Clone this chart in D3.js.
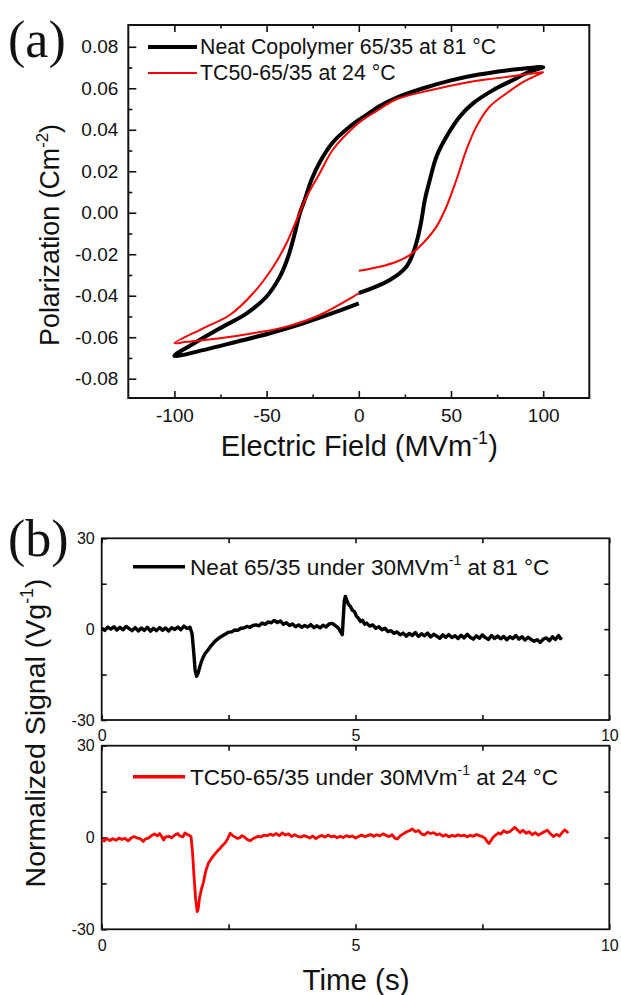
<!DOCTYPE html>
<html><head><meta charset="utf-8">
<script src="https://cdn.jsdelivr.net/npm/d3@7"></script>
<style>
body{margin:0;background:#fff}
text{fill:#111}
</style>
</head><body>
<svg id="c" width="621" height="995"></svg>
<script>
// ---------- Panel (a) data ----------
const fieldTicks = [-100, -50, 0, 50, 100];
const fieldMinor = [-75, -25, 25, 75];
const polTicks = [-0.08, -0.06, -0.04, -0.02, 0.00, 0.02, 0.04, 0.06, 0.08];
const polMinor = [-0.07, -0.05, -0.03, -0.01, 0.01, 0.03, 0.05, 0.07];
const legendA = ["Neat Copolymer 65/35 at 81 \u00B0C", "TC50-65/35 at 24 \u00B0C"];

const neatE = [0,16.8,25.8,29.4,32.1,34,35.8,38.5,42.1,47.5,54.7,61.9,72.8,83.6,92.6,100,
  92,80,65,50,35,20,11.4,4.2,-3.1,-14,-21.1,-25.6,-29.3,-32,-34.7,-38.3,-42.8,-50.1,-60.8,-75.3,-87.9,-100,
  -84.4,-66.3,-48.2,-30.2,-12.1,0];
const neatP = [-0.0388,-0.0324,-0.0260,-0.0196,-0.0116,-0.0035,0.0061,0.0158,0.0270,0.0366,0.0463,0.0527,0.0591,0.0640,0.0680,0.0702,
  0.0698,0.0686,0.0666,0.0638,0.0600,0.0553,0.0515,0.0472,0.0428,0.0340,0.0245,0.0160,0.0063,-0.0003,-0.0099,-0.0212,-0.0308,-0.0405,-0.0485,-0.0557,-0.0622,-0.0690,
  -0.0662,-0.0622,-0.0581,-0.0533,-0.0477,-0.0437];

const tcE = [0,11.4,20.4,27.6,34.8,42.1,47.5,52.9,58.3,63.7,70.9,80,88.1,94,100,
  95,85,70,56.5,40,20.4,11.4,2.4,-3.1,-14,-21.1,-28.3,-33.7,-39.2,-46.4,-57.3,-70,-84.4,-100,
  -93.3,-75.3,-57.3,-39.2,-21.1,-3.1,0];
const tcP = [-0.0280,-0.0260,-0.0236,-0.0204,-0.0147,-0.0067,0.0029,0.0158,0.0302,0.0414,0.0511,0.0575,0.0625,0.0652,0.0678,
  0.0672,0.0660,0.0643,0.0624,0.0593,0.0547,0.0500,0.0450,0.0410,0.0305,0.0192,0.0077,-0.0035,-0.0147,-0.0260,-0.0388,-0.0493,-0.0557,-0.0629,
  -0.0622,-0.0605,-0.0581,-0.0549,-0.0493,-0.0405,-0.0388];

// ---------- Panel (b) data ----------
const timeTicks = [0, 5, 10];
const timeMinor = [2.5, 7.5];
const signalTicks = [-30, 0, 30];
const signalMinor = [-15, 15];
const legendB1 = ["Neat 65/35 under 30MVm", "-1", " at 81 \u00B0C"];
const legendB2 = ["TC50-65/35 under 30MVm", "-1", " at 24 \u00B0C"];

const neatT = [0.00,0.06,0.12,0.18,0.24,0.30,0.36,0.42,0.48,0.54,0.60,0.66,0.72,0.78,0.84,0.90,0.96,1.02,1.08,1.14,1.20,1.26,1.32,1.38,1.44,1.50,1.56,1.62,1.68,1.74,
  1.78,1.81,1.84,1.87,1.90,1.94,1.98,2.03,2.08,2.14,2.20,2.26,2.32,2.38,2.44,2.50,2.56,2.62,2.68,2.74,2.80,2.86,2.92,2.98,3.04,3.10,3.16,3.22,3.28,3.34,3.40,3.46,3.52,3.58,3.64,3.70,3.76,3.82,3.88,3.94,
  4.00,4.06,4.12,4.18,4.24,4.30,4.36,4.42,4.48,4.54,4.60,4.66,4.71,4.74,4.76,4.78,4.80,4.83,4.86,4.90,4.94,4.98,5.02,5.06,5.10,5.14,5.18,5.22,5.28,5.34,5.40,5.46,5.52,5.58,5.64,5.70,5.76,5.82,5.88,5.94,
  6.00,6.06,6.12,6.18,6.24,6.30,6.36,6.42,6.48,6.54,6.60,6.66,6.72,6.78,6.84,6.90,6.96,7.02,7.08,7.14,7.20,7.26,7.32,7.38,7.44,7.50,7.56,7.62,7.68,7.74,7.80,7.86,7.92,7.98,
  8.04,8.10,8.16,8.22,8.28,8.34,8.40,8.46,8.52,8.58,8.64,8.70,8.76,8.82,8.88,8.94,9.00,9.04,9.06];
const neatV = [0.3,-0.4,0.7,0.0,0.8,-0.3,0.6,-0.2,0.9,0.2,-0.5,0.5,-0.6,0.4,-0.4,0.6,-0.7,0.3,-0.5,0.5,-0.4,0.4,-0.6,0.5,-0.1,0.7,-0.2,1.0,0.2,0.6,
  -1.5,-7,-13.5,-15.6,-14.5,-12,-10,-8.2,-7.2,-5.8,-4.6,-3.6,-2.8,-2.2,-1.6,-1.0,-0.9,-0.3,-0.4,0.3,0.4,0.9,0.6,1.2,1.4,1.1,2.0,1.6,2.4,2.1,2.9,2.2,2.7,1.6,2.1,1.2,1.7,0.8,1.4,0.6,
  1.2,0.7,1.5,0.5,1.1,0.4,1.3,0.7,1.7,1.9,1.2,0.4,-1.0,-1.8,4,9.5,10.8,9.5,8.2,7.5,6.2,5.8,4.2,3.6,2.5,2.9,1.6,2.0,1.0,1.4,0.3,0.8,-0.2,0.3,-0.8,-0.5,-1.4,-0.9,-1.9,-1.3,
  -2.3,-1.4,-2.1,-1.1,-2.4,-1.5,-2.2,-1.3,-2.6,-1.7,-2.3,-3.0,-1.9,-2.7,-1.8,-2.8,-2.2,-3.1,-2.0,-2.9,-1.7,-2.7,-3.3,-2.2,-3.0,-1.9,-2.8,-3.4,-2.1,-3.1,-2.3,-3.2,-2.4,-3.5,
  -2.5,-3.1,-2.1,-3.3,-2.5,-3.6,-2.7,-3.4,-4.0,-3.5,-4.4,-3.3,-2.9,-3.8,-2.5,-3.4,-2.1,-3.1,-2.6];

const tcT = [0.00,0.05,0.10,0.16,0.22,0.28,0.34,0.40,0.46,0.52,0.58,0.64,0.70,0.76,0.82,0.86,0.92,0.98,1.04,1.10,1.14,1.18,1.22,1.26,1.32,1.38,1.44,1.50,1.54,1.60,1.64,1.68,1.72,1.76,
  1.79,1.82,1.85,1.88,1.90,1.93,1.97,2.00,2.05,2.10,2.15,2.20,2.27,2.33,2.38,2.43,2.48,2.53,2.57,2.62,2.67,2.72,2.76,2.80,2.86,2.92,2.97,3.02,3.08,3.14,3.20,3.26,3.32,3.38,3.44,3.50,3.56,3.62,3.68,3.74,3.80,3.86,3.92,3.98,
  4.04,4.10,4.16,4.22,4.28,4.34,4.40,4.46,4.52,4.58,4.64,4.70,4.76,4.82,4.88,4.94,5.00,5.06,5.12,5.18,5.24,5.30,5.36,5.42,5.48,5.54,5.60,5.66,5.72,5.78,5.82,5.88,5.94,
  6.00,6.06,6.12,6.18,6.24,6.30,6.36,6.42,6.48,6.54,6.60,6.66,6.72,6.78,6.84,6.90,6.96,7.02,7.08,7.14,7.20,7.26,7.32,7.38,7.44,7.50,7.56,7.60,7.63,7.66,7.70,7.76,7.82,7.86,7.92,7.98,
  8.04,8.10,8.14,8.18,8.24,8.30,8.36,8.42,8.48,8.54,8.60,8.66,8.72,8.78,8.84,8.90,8.96,9.02,9.08,9.12,9.16,9.19];
const tcV = [-0.7,-1.2,-0.3,-1.0,-0.4,-0.9,-0.2,-0.6,-0.3,-1.1,-0.2,0.3,-0.2,-0.4,-1.3,-0.5,-0.2,0.6,1.2,0.5,1.3,0.4,-0.8,0.2,0.4,-0.1,0.8,1.3,0.5,0.2,1.5,1.0,0.8,0.3,
  -5,-13,-20,-24.2,-23.5,-19.5,-16.5,-14.9,-11,-8.4,-7.2,-6.0,-4.6,-3.6,-2.6,-1.8,-0.5,1.4,0.8,0.2,-0.3,-0.1,0.6,0.3,-0.6,-1.1,-0.5,-0.1,0.4,0.2,0.8,0.6,1.1,0.7,1.3,0.6,1.5,0.8,1.2,0.3,0.9,0.4,0.1,0.6,
  0.3,-0.2,0.5,-0.4,0.3,0.7,0.1,0.8,0.2,0.5,-0.1,0.4,0.0,0.6,0.2,0.5,-0.2,0.3,0.8,0.3,0.6,1.0,0.4,0.9,0.5,1.2,0.7,0.3,0.9,-0.3,-0.5,0.5,1.2,
  1.8,2.2,2.8,1.9,2.3,1.2,0.8,1.7,1.3,1.6,0.9,1.2,0.4,0.9,0.2,0.7,0.4,0.9,0.5,0.8,0.2,0.7,0.4,1.0,0.6,0.3,-0.4,-1.5,-2.0,-1.2,-0.2,0.8,1.5,1.1,2.2,1.6,
  1.9,2.8,3.3,2.6,1.6,2.4,1.4,1.9,0.9,1.6,0.8,1.3,1.9,2.4,1.2,0.3,1.0,0.5,1.8,2.5,2.0,1.4];

// ---------- Drawing ----------
const svg = d3.select("#c");
const FONT = '"Liberation Sans",Arial,sans-serif';
const SERIF = '"Liberation Serif","Times New Roman","DejaVu Serif",serif';

function richText(g, x, y, parts, size, opts = {}) {
  const t = g.append("text").attr("x", x).attr("y", y).attr("font-size", size).style("font-family", FONT);
  if (opts.anchor) t.attr("text-anchor", opts.anchor);
  if (opts.transform) t.attr("transform", opts.transform);
  parts.forEach(p => {
    const s = t.append("tspan").text(p.t);
    if (p.sup) s.attr("font-size", size * 0.62).attr("dy", -size * 0.42);
    else if (p.after) s.attr("dy", size * 0.42);
  });
  return t;
}
function plainText(g, x, y, str, size, family) {
  return g.append("text").attr("x", x).attr("y", y).attr("font-size", size).style("font-family", family || FONT).text(str);
}

// ===== Panel (a) =====
const A = {l: 128.3, r: 589.3, t: 25, b: 398};
const xA = d3.scaleLinear().domain([-125, 125]).range([A.l, A.r]);
const yA = d3.scaleLinear().domain([-0.0893, 0.0905]).range([A.b, A.t]);
const gA = svg.append("g");

function styleAxis(sel, fs) {
  sel.select(".domain").remove();
  sel.selectAll("line").attr("stroke", "#111").attr("stroke-width", 1.6);
  sel.selectAll("text").attr("font-size", fs).style("font-family", FONT).attr("fill", "#111")
    .text(function(){ return this.textContent.replace("\u2212", "-"); });
}

gA.append("g").attr("transform", `translate(0,${A.b})`)
  .call(d3.axisBottom(xA).tickValues(fieldTicks).tickSizeInner(-7).tickSizeOuter(0).tickPadding(11).tickFormat(d3.format("d")))
  .call(s => styleAxis(s, 19));
gA.append("g").attr("transform", `translate(0,${A.b})`)
  .call(d3.axisBottom(xA).tickValues(fieldMinor).tickSizeInner(-3.5).tickSizeOuter(0).tickFormat(""))
  .call(s => styleAxis(s, 19));
gA.append("g").attr("transform", `translate(0,${A.t})`)
  .call(d3.axisTop(xA).tickValues(fieldTicks).tickSizeInner(-7).tickSizeOuter(0).tickFormat(""))
  .call(s => styleAxis(s, 19));
gA.append("g").attr("transform", `translate(0,${A.t})`)
  .call(d3.axisTop(xA).tickValues(fieldMinor).tickSizeInner(-3.5).tickSizeOuter(0).tickFormat(""))
  .call(s => styleAxis(s, 19));
gA.append("g").attr("transform", `translate(${A.l},0)`)
  .call(d3.axisLeft(yA).tickValues(polTicks).tickSizeInner(-8).tickSizeOuter(0).tickPadding(10).tickFormat(d3.format(".2f")))
  .call(s => styleAxis(s, 19));
gA.append("g").attr("transform", `translate(${A.l},0)`)
  .call(d3.axisLeft(yA).tickValues(polMinor).tickSizeInner(-4).tickSizeOuter(0).tickFormat(""))
  .call(s => styleAxis(s, 19));

gA.append("rect").attr("x", A.l).attr("y", A.t).attr("width", A.r - A.l).attr("height", A.b - A.t)
  .attr("fill", "none").attr("stroke", "#111").attr("stroke-width", 2);

const lineA = d3.line().x(d => xA(d[0])).y(d => yA(d[1])).curve(d3.curveCatmullRom.alpha(0.5));
gA.append("path").datum(neatE.map((e, i) => [e, neatP[i]])).attr("d", lineA)
  .attr("fill", "none").attr("stroke", "#000").attr("stroke-width", 4).attr("stroke-linejoin", "round");
gA.append("path").datum(tcE.map((e, i) => [e, tcP[i]])).attr("d", lineA)
  .attr("fill", "none").attr("stroke", "#ff0000").attr("stroke-width", 2).attr("stroke-linejoin", "round");

// legend (a)
gA.append("line").attr("x1", 148).attr("x2", 197).attr("y1", 47).attr("y2", 47).attr("stroke", "#000").attr("stroke-width", 4);
gA.append("line").attr("x1", 148).attr("x2", 197).attr("y1", 73).attr("y2", 73).attr("stroke", "#ff0000").attr("stroke-width", 2);
plainText(gA, 200, 54, legendA[0], 21.3);
plainText(gA, 200, 80, legendA[1], 21.3);

// titles (a)
richText(gA, (A.l + A.r) / 2 + 0.5, 456, [{t: "Electric Field (MVm"}, {t: "-1", sup: true}, {t: ")", after: true}], 29, {anchor: "middle"});
richText(gA, 0, 0, [{t: "Polarization (Cm"}, {t: "-2", sup: true}, {t: ")", after: true}], 26.8,
  {anchor: "middle", transform: `translate(59,235) rotate(-90)`});
plainText(gA, 8, 57, "(a)", 52, SERIF);

// ===== Panel (b) =====
const B = {l: 101.7, r: 609.3};
const xB = d3.scaleLinear().domain([0, 10]).range([B.l, B.r]);
const panels = [
  {t: 538.3, b: 720, T: neatT, V: neatV, color: "#000", width: 3.4, legend: legendB1, ly: 566.7, lw: 3.5},
  {t: 745.7, b: 929.3, T: tcT, V: tcV, color: "#ff0000", width: 2.8, legend: legendB2, ly: 776.7, lw: 3.5}
];
panels.forEach(p => {
  const g = svg.append("g");
  const y = d3.scaleLinear().domain([-30, 30]).range([p.b, p.t]);
  g.append("g").attr("transform", `translate(0,${p.b})`)
    .call(d3.axisBottom(xB).tickValues(timeTicks).tickSizeInner(-5).tickSizeOuter(0).tickPadding(10).tickFormat(d3.format("d")))
    .call(s => styleAxis(s, 16));
  g.append("g").attr("transform", `translate(0,${p.b})`)
    .call(d3.axisBottom(xB).tickValues(timeMinor).tickSizeInner(-5).tickSizeOuter(0).tickFormat(""))
    .call(s => styleAxis(s, 16));
  g.append("g").attr("transform", `translate(0,${p.t})`)
    .call(d3.axisTop(xB).tickValues(timeTicks.concat(timeMinor)).tickSizeInner(-5).tickSizeOuter(0).tickFormat(""))
    .call(s => styleAxis(s, 16));
  g.append("g").attr("transform", `translate(${B.l},0)`)
    .call(d3.axisLeft(y).tickValues(signalTicks).tickSizeInner(-5).tickSizeOuter(0).tickPadding(7).tickFormat(d3.format("d")))
    .call(s => styleAxis(s, 16));
  g.append("g").attr("transform", `translate(${B.l},0)`)
    .call(d3.axisLeft(y).tickValues(signalMinor).tickSizeInner(-5).tickSizeOuter(0).tickFormat(""))
    .call(s => styleAxis(s, 16));
  g.append("g").attr("transform", `translate(${B.r},0)`)
    .call(d3.axisRight(y).tickValues(signalMinor.concat([0])).tickSizeInner(-5).tickSizeOuter(0).tickFormat(""))
    .call(s => styleAxis(s, 16));
  g.append("rect").attr("x", B.l).attr("y", p.t).attr("width", B.r - B.l).attr("height", p.b - p.t)
    .attr("fill", "none").attr("stroke", "#111").attr("stroke-width", 1.8);
  const line = d3.line().x(d => xB(d[0])).y(d => y(d[1]));
  g.append("path").datum(p.T.map((t, i) => [t, p.V[i]])).attr("d", line)
    .attr("fill", "none").attr("stroke", p.color).attr("stroke-width", p.width).attr("stroke-linejoin", "round");
  g.append("line").attr("x1", 133).attr("x2", 185).attr("y1", p.ly).attr("y2", p.ly)
    .attr("stroke", p.color).attr("stroke-width", p.lw);
  richText(g, 190, p.ly + 8, [{t: p.legend[0]}, {t: p.legend[1], sup: true}, {t: p.legend[2], after: true}], 22.6);
});

richText(svg, 0, 0, [{t: "Normalized Signal (Vg"}, {t: "-1", sup: true}, {t: ")", after: true}], 28.5,
  {anchor: "middle", transform: `translate(45,733) rotate(-90)`});
richText(svg, 356, 990, [{t: "Time (s)"}], 29.5, {anchor: "middle"});
plainText(svg, 8, 556, "(b)", 52, SERIF);
</script>
</body></html>
